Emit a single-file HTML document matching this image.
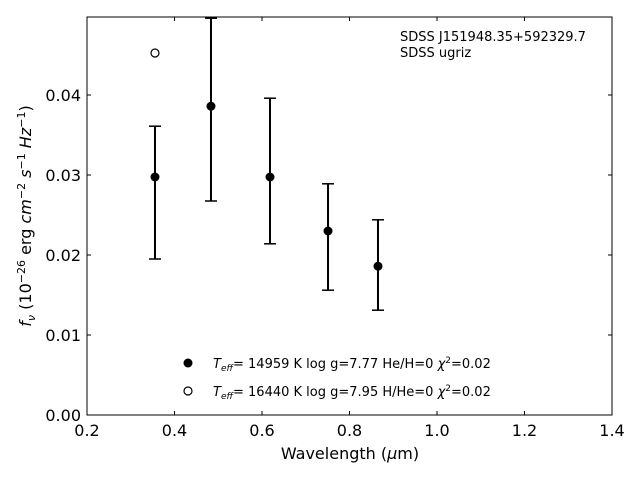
<!DOCTYPE html>
<html><head><meta charset="utf-8"><style>
body{margin:0;background:#fff}
svg text{font-family:"DejaVu Sans","Liberation Sans",sans-serif;fill:#000}
</style></head><body>
<svg id="chart" width="640" height="480" xmlns="http://www.w3.org/2000/svg">
<g id="g"></g>
<g font-size="13">
<text x="400" y="41">SDSS J151948.35+592329.7</text>
<text x="400" y="57">SDSS ugriz</text>
<circle cx="188" cy="363" r="4.5" fill="#000"/>
<text x="213" y="368"><tspan font-style="italic">T</tspan><tspan font-style="italic" font-size="9" dy="3">eff</tspan><tspan dy="-3">= 14959 K  log g=7.77  He/H=0  </tspan><tspan font-style="italic">χ</tspan><tspan font-size="9" dy="-5">2</tspan><tspan dy="5">=0.02</tspan></text>
<circle cx="188" cy="391" r="4" fill="#fff" stroke="#000" stroke-width="1.2"/>
<text x="213" y="396"><tspan font-style="italic">T</tspan><tspan font-style="italic" font-size="9" dy="3">eff</tspan><tspan dy="-3">= 16440 K  log g=7.95  H/He=0  </tspan><tspan font-style="italic">χ</tspan><tspan font-size="9" dy="-5">2</tspan><tspan dy="5">=0.02</tspan></text>
</g>
<text x="350" y="459" text-anchor="middle" font-size="16">Wavelength (<tspan font-style="italic">μ</tspan>m)</text>
<text transform="translate(31,216) rotate(-90)" text-anchor="middle" font-size="16"><tspan font-style="italic">f</tspan><tspan font-style="italic" font-size="11" dy="4">ν</tspan><tspan dy="-4"> (10</tspan><tspan font-size="11" dy="-6">−26</tspan><tspan dy="6"> erg </tspan><tspan font-style="italic">cm</tspan><tspan font-size="11" dy="-6">−2</tspan><tspan dy="6" font-style="italic"> s</tspan><tspan font-size="11" dy="-6">−1</tspan><tspan dy="6" font-style="italic"> Hz</tspan><tspan font-size="11" dy="-6">−1</tspan><tspan dy="6">)</tspan></text>
</svg>
<script>
const wavelengths=[0.3554,0.4834,0.6183,0.7509,0.8651];
const fluxes=[0.02975,0.0386,0.02975,0.0230,0.0186];
const errUpper=[0.0361,0.0496,0.0396,0.0289,0.0244];
const errLower=[0.0195,0.02675,0.0214,0.0156,0.0131];
const modelWave=[0.3554];
const modelFlux=[0.04525];
const xTicks=[0.2,0.4,0.6,0.8,1.0,1.2,1.4];
const yTicks=[0.00,0.01,0.02,0.03,0.04];
const L=87,R=612,T=17,B=415,x0=0.2,x1=1.4,y0=0,y1=0.04975;
const sx=v=>L+(v-x0)/(x1-x0)*(R-L);
const sy=v=>B-(v-y0)/(y1-y0)*(B-T);
const g=document.getElementById('g');
const NS='http://www.w3.org/2000/svg';
function mk(t,a,txt){const e=document.createElementNS(NS,t);for(const k in a)e.setAttribute(k,a[k]);if(txt!=null)e.textContent=txt;g.appendChild(e);return e;}
const frame=mk('rect',{x:L,y:T,width:R-L,height:B-T,fill:'none',stroke:'#000','stroke-width':1});


xTicks.forEach(v=>{const x=sx(v);
const t=mk('line',{x1:x,x2:x,y1:B,y2:B-4,stroke:'#000'});


const t2=mk('line',{x1:x,x2:x,y1:T,y2:T+4,stroke:'#000'});


const l=mk('text',{x:x,y:B+21,'text-anchor':'middle','font-size':16},v.toFixed(1));

});
yTicks.forEach(v=>{const y=sy(v);
const t=mk('line',{x1:L,x2:L+4,y1:y,y2:y,stroke:'#000'});


const t2=mk('line',{x1:R,x2:R-4,y1:y,y2:y,stroke:'#000'});


const l=mk('text',{x:L-6,y:y+6,'text-anchor':'end','font-size':16},v.toFixed(2));

});
wavelengths.forEach((w,i)=>{const x=sx(w);
const eb=mk('line',{x1:x,x2:x,y1:Math.max(sy(errUpper[i]),T),y2:sy(errLower[i]),stroke:'#000','stroke-width':2});


[errUpper[i],errLower[i]].forEach(e=>{const c=mk('line',{x1:x-6,x2:x+6,y1:Math.max(sy(e),T+1),y2:Math.max(sy(e),T+1),stroke:'#000','stroke-width':1.5});

});
const p=mk('circle',{cx:x,cy:sy(fluxes[i]),r:4.5,fill:'#000'});

});
modelWave.forEach((w,i)=>{const p=mk('circle',{cx:sx(w),cy:sy(modelFlux[i]),r:4,fill:'#fff',stroke:'#000','stroke-width':1.2});

});
</script>
</body></html>
